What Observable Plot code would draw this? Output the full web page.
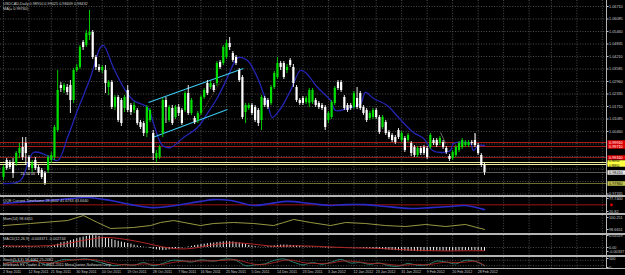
<!DOCTYPE html>
<html><head><meta charset="utf-8">
<script src="https://cdn.jsdelivr.net/npm/d3@7"></script>
<script src="https://cdn.jsdelivr.net/npm/@observablehq/plot@0.6"></script>
<style>
html,body{margin:0;padding:0;background:#000;}
#chart{position:relative;width:625px;height:275px;background:#000;overflow:hidden;font-family:"Liberation Sans",Arial,sans-serif;}
.panel{position:absolute;left:0;}
.panel svg{display:block;}
.sep{position:absolute;left:0;width:625px;background:#b4b4b4;}
.vax{position:absolute;left:606px;top:0;width:1px;height:268px;background:#b4b4b4;}
.lbl{position:absolute;left:3px;color:#cfcfcf;font-size:3.8px;line-height:4px;white-space:nowrap;}
</style></head><body><div id="chart"></div>
<script>
// ---------- data ----------
const openP = [0.9816,0.9901,0.9891,0.9886,0.9886,0.9936,0.9966,0.9986,0.9916,0.9861,
0.9901,0.9866,0.9851,0.9836,0.9851,0.9901,0.9916,1.0051,1.0276,1.0251,
1.0266,1.0276,1.0201,1.0351,1.0366,1.0491,1.0476,1.0526,1.0541,1.0416,
1.0366,1.0351,1.0351,1.0266,1.0291,1.0166,1.0216,1.0201,1.0161,1.0251,
1.0176,1.0151,1.0151,1.0091,1.0086,1.0036,1.0101,1.0036,0.9911,0.9916,
1.0036,1.0201,1.0101,1.0161,1.0116,1.0166,1.0151,1.0151,1.0236,1.0136,
1.0111,1.0101,1.0136,1.0216,1.0286,1.0266,1.0276,1.0286,1.0391,1.0386,
1.0416,1.0486,1.0436,1.0416,1.0351,1.0316,1.0141,1.0161,1.0176,1.0166,
1.0151,1.0101,1.0211,1.0201,1.0186,1.0266,1.0316,1.0386,1.0386,1.0351,
1.0401,1.0366,1.0266,1.0201,1.0211,1.0191,1.0186,1.0191,1.0201,1.0186,
1.0176,1.0166,1.0101,1.0116,1.0186,1.0291,1.0291,1.0216,1.0176,1.0176,
1.0166,1.0211,1.0236,1.0166,1.0151,1.0111,1.0116,1.0151,1.0116,1.0066,
1.0091,1.0041,1.0026,1.0016,1.0051,1.0001,1.0011,1.0001,0.9986,0.9966,
0.9926,0.9961,0.9966,0.9961,0.9966,1.0001,1.0001,0.9986,0.9991,0.9961,
0.9921,0.9911,0.9926,0.9951,0.9966,0.9976,0.9976,0.9991,1.0001,0.9976,
0.9926,0.9876];
const highP = [0.9876,0.9911,0.9901,0.9911,0.9946,0.9986,1.0016,1.0016,0.9926,0.9901,
0.9916,0.9876,0.9861,0.9846,0.9926,0.9941,1.0076,1.0351,1.0291,1.0286,
1.0281,1.0301,1.0361,1.0381,1.0476,1.0501,1.0551,1.0651,1.0551,1.0426,
1.0381,1.0376,1.0376,1.0301,1.0301,1.0226,1.0226,1.0211,1.0226,1.0276,
1.0186,1.0191,1.0161,1.0101,1.0096,1.0176,1.0161,1.0051,0.9951,0.9976,
1.0211,1.0216,1.0176,1.0176,1.0176,1.0181,1.0161,1.0246,1.0276,1.0211,
1.0121,1.0146,1.0226,1.0261,1.0301,1.0296,1.0286,1.0396,1.0401,1.0476,
1.0501,1.0516,1.0446,1.0426,1.0361,1.0326,1.0186,1.0186,1.0186,1.0176,
1.0161,1.0226,1.0221,1.0211,1.0276,1.0346,1.0416,1.0396,1.0396,1.0381,
1.0411,1.0381,1.0276,1.0211,1.0221,1.0221,1.0261,1.0261,1.0211,1.0196,
1.0186,1.0176,1.0146,1.0201,1.0271,1.0301,1.0301,1.0226,1.0186,1.0186,
1.0246,1.0266,1.0246,1.0176,1.0161,1.0146,1.0161,1.0161,1.0126,1.0126,
1.0101,1.0051,1.0036,1.0026,1.0061,1.0046,1.0021,1.0036,0.9996,0.9976,
0.9971,0.9971,0.9976,0.9971,1.0036,1.0011,1.0011,1.0021,1.0001,0.9971,
0.9931,0.9951,0.9976,0.9996,1.0011,1.0001,1.0001,1.0001,1.0036,0.9986,
0.9936,0.9886];
const lowP = [0.9801,0.9851,0.9856,0.9811,0.9871,0.9911,0.9901,0.9876,0.9851,0.9841,
0.9851,0.9826,0.9806,0.9776,0.9836,0.9886,0.9901,1.0041,1.0241,1.0236,
1.0226,1.0136,1.0186,1.0341,1.0356,1.0451,1.0466,1.0501,1.0406,1.0351,
1.0341,1.0336,1.0236,1.0226,1.0156,1.0151,1.0091,1.0071,1.0141,1.0141,
1.0126,1.0136,1.0076,1.0056,1.0021,1.0016,1.0091,0.9901,0.9891,0.9906,
1.0016,1.0086,1.0091,1.0076,1.0106,1.0121,1.0076,1.0141,1.0126,1.0126,
1.0081,1.0086,1.0126,1.0206,1.0226,1.0256,1.0241,1.0271,1.0356,1.0376,
1.0406,1.0451,1.0391,1.0376,1.0291,1.0106,1.0086,1.0151,1.0126,1.0091,
1.0071,1.0051,1.0166,1.0156,1.0176,1.0256,1.0306,1.0351,1.0306,1.0336,
1.0366,1.0266,1.0191,1.0176,1.0176,1.0181,1.0166,1.0181,1.0166,1.0156,
1.0151,1.0051,1.0086,1.0106,1.0176,1.0251,1.0241,1.0151,1.0141,1.0151,
1.0156,1.0156,1.0151,1.0126,1.0091,1.0101,1.0106,1.0106,1.0031,1.0056,
1.0026,1.0006,0.9991,0.9981,1.0006,0.9991,0.9941,0.9991,0.9921,0.9916,
0.9916,0.9926,0.9926,0.9906,0.9956,0.9976,0.9966,0.9976,0.9956,0.9931,
0.9896,0.9901,0.9916,0.9941,0.9956,0.9966,0.9966,0.9976,0.9966,0.9926,
0.9866,0.9826];
const closeP = [0.9866,0.9861,0.9866,0.9836,0.9936,0.9961,0.9916,0.9936,0.9866,0.9886,
0.9861,0.9836,0.9816,0.9786,0.9916,0.9926,1.0066,1.0251,1.0261,1.0276,
1.0241,1.0201,1.0351,1.0366,1.0466,1.0466,1.0536,1.0541,1.0416,1.0366,
1.0351,1.0366,1.0286,1.0291,1.0166,1.0216,1.0101,1.0086,1.0216,1.0151,
1.0141,1.0176,1.0086,1.0066,1.0036,1.0166,1.0151,0.9936,0.9936,0.9966,
1.0201,1.0166,1.0166,1.0086,1.0166,1.0136,1.0086,1.0236,1.0136,1.0201,
1.0091,1.0136,1.0216,1.0251,1.0236,1.0286,1.0251,1.0386,1.0366,1.0466,
1.0486,1.0466,1.0401,1.0386,1.0301,1.0116,1.0176,1.0176,1.0136,1.0101,
1.0086,1.0216,1.0176,1.0166,1.0266,1.0336,1.0386,1.0366,1.0316,1.0366,
1.0376,1.0286,1.0201,1.0186,1.0186,1.0211,1.0251,1.0251,1.0176,1.0166,
1.0161,1.0066,1.0136,1.0191,1.0261,1.0261,1.0251,1.0161,1.0151,1.0161,
1.0236,1.0166,1.0161,1.0136,1.0101,1.0136,1.0151,1.0116,1.0041,1.0116,
1.0036,1.0016,1.0001,0.9991,1.0016,1.0036,0.9951,1.0026,0.9936,0.9926,
0.9961,0.9936,0.9936,0.9916,1.0026,0.9986,0.9976,1.0011,0.9966,0.9941,
0.9906,0.9941,0.9966,0.9986,1.0001,0.9991,0.9991,0.9986,0.9976,0.9936,
0.9876,0.9841];

// moving average (blue), read at bar positions
const maBar = [0,5.3,9.4,13.8,17,20.1,23.2,27.3,30.4,31.4,34.5,37.7,40.8,45.2,47.1,49.9,52.4,56.5,60.9,64,67.2,70.3,72.8,73.8,76.6,79.7,81.6,83.2,84.4,87,90.1,93.2,94.8,98.6,102.7,104.2,108,112.1,113.6,116.2,120.5,124,128.7,131.9,134.7,137.8,140.3,141.3,146.6,147.5,149.1,151];
const maVal = [0.9786,0.9801,0.9941,0.9926,0.9901,1.0016,1.0151,1.0316,1.0466,1.0476,1.0366,1.0266,1.0201,1.0166,1.0086,0.9976,0.9966,1.0016,1.0066,1.0136,1.0216,1.0316,1.0401,1.0416,1.0401,1.0316,1.0236,1.0166,1.0116,1.0161,1.0251,1.0351,1.0341,1.0266,1.0201,1.0151,1.0161,1.0186,1.0241,1.0211,1.0176,1.0116,1.0041,1.0011,0.9951,0.9941,0.9951,0.9986,0.9986,0.9951,0.9976,0.9976];

// trend lines drawn on chart
const chanBar1 = [45.5,46.8], chanVal1 = [1.0191,1.0016], chanBar2 = [75.3,70.3], chanVal2 = [1.0361,1.0156];
const fibBar1 = [60.3], fibVal1 = [1.0091], fibBar2 = [68.75], fibVal2 = [1.0311];
const grayBar1 = [137.2,148.2], grayVal1 = [1.0041,1.0036], grayBar2 = [138.8,148.2], grayVal2 = [0.9986,0.9986];

// horizontal levels
const levelVal = [0.9991,0.9971,0.9916,0.9891,0.9881,0.9786];
const levelColor = ["#a31a1a","#a31a1a","#8c1a1a","#ecec9c","#ecec9c","#6c6c2c"];
const levelText = ["0.99910","0.99710","0.99160","0.98910","0.98810","0.97860"];
const levelBg = ["#e00000","#e00000","#e00000","#ffff40","#ffff40","#c8c850"];
const levelFg = ["#ffffff","#ffffff","#ffffff","#000000","#000000","#000000"];
const levelTextShift = [0,0,0,-1,1,0];

// price axis ticks (grid) and the tick labels left visible beside the coloured boxes
const priceTicks = [1.06710,1.06085,1.05460,1.04835,1.04210,1.03585,1.02960,1.02335,1.01710,1.01085,1.00460,0.99835,0.99210,0.98585,0.97960,0.97335];
const priceLabelTicks = [1.06710,1.06085,1.05460,1.04835,1.04210,1.03585,1.02960,1.02335,1.01710,1.01085,1.00460,0.97335];

// time axis
const dateLabels = ["2 Sep 2011","12 Sep 2011","21 Sep 2011","30 Sep 2011","10 Oct 2011","19 Oct 2011","28 Oct 2011","7 Nov 2011","16 Nov 2011","25 Nov 2011","5 Dec 2011","14 Dec 2011","23 Dec 2011","3 Jan 2012","12 Jan 2012","23 Jan 2012","31 Jan 2012","9 Feb 2012","20 Feb 2012","28 Feb 2012"];
const dateBars = [0,8,15,23,31,39,47,55,62,70,78,86,94,102,110,117,125,133,141,149];
const extraGridBars = [157,165,172,180,188];

// QQE
const qqeBar = [0,8.5,17.9,26.4,33.6,39.9,47.1,54,61.8,66,71.3,78.5,83.8,89.2,96.4,102.7,107.4,113.6,119.9,127.8,134,140.3,145,151];
const qqeVal = [56,65,73,82,69,51,38,47,65,73,69,47,56,65,56,47,51,51,43,34,38,43,47,29];
const qqeTicks = [77.74,20.82], qqeTickText = ["77.7400","20.82"];

// Momentum
const momBar = [0,8.5,20.1,25.1,29.5,33.6,40.8,46.2,49.3,53.4,61.8,66,72.2,78.5,84.8,88,91.1,96.4,102.7,107.4,113.6,119.9,126.2,132.5,138.8,145,151];
const momVal = [99.19,99.46,99.85,100.51,99.59,98.80,98.93,99.19,99.59,99.85,99.19,99.46,99.59,99.46,99.19,99.59,99.99,99.59,99.19,99.59,99.46,99.19,99.06,99.33,99.06,99.33,98.67];
const momTicks = [100.251,98.6651], momTickText = ["100.251","98.6651"];

// MACD (histogram per bar + signal)
const macdHist = [0.0012,0.0010,0.0009,0.0007,0.0007,0.0008,0.0009,0.0010,0.0009,0.0007,0.0005,0.0004,0.0002,
0.0003,0.0006,0.0008,
0.0016,0.0028,0.0040,0.0046,0.0051,
0.0058,0.0065,0.0075,0.0082,0.0088,
0.0094,0.0099,0.0101,0.0099,0.0095,
0.0088,0.0082,0.0075,0.0068,0.0060,
0.0053,0.0046,0.0040,0.0034,0.0028,
0.0020,0.0013,0.0007,0.0003,0.0001,
-0.0008,-0.0015,-0.0020,-0.0024,-0.0026,-0.0024,-0.0020,
-0.0015,-0.0012,-0.0008,-0.0004,0.0000,
0.0005,0.0010,0.0016,0.0020,0.0025,0.0028,0.0032,
0.0036,0.0038,0.0042,0.0045,0.0048,0.0050,0.0049,0.0047,
0.0043,0.0038,0.0032,0.0025,0.0018,0.0012,0.0007,0.0003,
0.0001,0.0003,0.0006,0.0010,0.0014,0.0018,0.0020,0.0021,
0.0020,0.0018,0.0015,0.0012,0.0010,0.0008,0.0006,0.0005,
0.0004,0.0002,0.0000,-0.0002,-0.0004,-0.0005,-0.0004,-0.0002,
0.0000,0.0001,0.0000,-0.0002,-0.0003,-0.0004,-0.0004,-0.0005,
-0.0006,-0.0008,-0.0010,-0.0012,-0.0014,-0.0016,-0.0018,-0.0020,
-0.0022,-0.0024,-0.0026,-0.0028,-0.0030,-0.0031,-0.0032,-0.0033,
-0.0034,-0.0035,-0.0036,-0.0036,-0.0035,-0.0033,-0.0031,-0.0030,
-0.0030,-0.0031,-0.0032,-0.0032,-0.0031,-0.0030,-0.0029,-0.0028,
-0.0027,-0.0026,-0.0026,-0.0027,-0.0028,-0.0031,-0.0034];
const sigBar = [0,10,18,25,32,38,45,50,55,60,66,72,78,85,92,100,108,118,128,138,145,151];
const sigVal = [0.0015,0.0012,0.0025,0.0060,0.0085,0.0070,0.0035,0.0005,-0.0012,-0.0005,0.0025,0.0040,0.0030,0.0010,0.0015,0.0008,-0.0002,-0.0008,-0.0022,-0.0029,-0.0028,-0.00274];
const macdTicks = [0.01019,0,-0.00337], macdTickText = ["0.01019","0.00","-0.00337"];

// Stochastic
const stBar = [0,4,7,10,13,16,19,22,26,29,32,35,38,41,44,47,50,53,56,59,62,66,70,73,76,79,82,85,88,91,94,97,100,103,106,109,112,115,118,121,124,127,130,133,136,139,142,145,148,151];
const stMain = [40,70,55,80,30,60,90,85,95,70,40,20,35,25,55,20,45,80,75,60,85,70,95,80,20,30,40,80,95,60,30,55,35,60,90,50,55,35,50,20,15,45,25,30,70,60,40,80,70,18];
const stSig = [45,55,65,65,55,50,70,85,90,85,65,40,30,30,40,35,35,55,70,70,72,75,82,85,60,35,35,55,80,80,55,45,45,50,70,70,60,45,45,35,25,30,35,30,45,60,55,60,70,25];
const stTicks = [100,0], stTickText = ["100","0"];

// misc annotation
const noteBar = [5.3], noteVal = [0.9836], noteText = ["21.54 05"];

// ---------- build ----------
const xDomain = [-0.942, 189.3];
const W = 625, MR = 19;
const FONT = "'Liberation Sans', Arial, sans-serif";
const gridStyle = {stroke: "#6e6e6e", strokeOpacity: 1, strokeDasharray: "1,1.6", strokeWidth: 0.7};
const gridBars = dateBars.concat(extraGridBars);

function mk(h, yDomain, marks) {
  return Plot.plot({
    width: W, height: h, marginLeft: 0, marginRight: MR, marginTop: 0, marginBottom: 0,
    x: {domain: xDomain, axis: null},
    y: {domain: yDomain, axis: null},
    color: {type: "identity"},
    style: {background: "transparent", color: "#c8c8c8", fontFamily: FONT, fontSize: "3.8px", overflow: "visible"},
    marks
  });
}
function rightAxis(ticks, fmt) {
  return Plot.axisY(ticks, {anchor: "right", tickSize: 1.5, tickPadding: 1, tickFormat: fmt, fontSize: 3.8, color: "#c8c8c8", label: null});
}

const candles = openP.map((o, i) => ({i, o, h: highP[i], l: lowP[i], c: closeP[i]}));
const candleColor = d => d.c >= d.o ? "#00e000" : "#ffffff";
const ma = maBar.map((b, k) => ({i: b, v: maVal[k]}));
const chan = chanBar1.map((b, k) => ({x1: b, y1: chanVal1[k], x2: chanBar2[k], y2: chanVal2[k]}));
const fib = fibBar1.map((b, k) => ({x1: b, y1: fibVal1[k], x2: fibBar2[k], y2: fibVal2[k]}));
const grays = grayBar1.map((b, k) => ({x1: b, y1: grayVal1[k], x2: grayBar2[k], y2: grayVal2[k]}));
const levels = levelVal.map((v, k) => ({v, c: levelColor[k], t: levelText[k], bg: levelBg[k], fg: levelFg[k], s: levelTextShift[k]}));
const last = candles[candles.length - 1];
const bid = [{v: last.c, t: last.c.toFixed(5)}];

const mainPlot = mk(195, [0.9726, 1.0701], [
  Plot.gridY(priceTicks, gridStyle),
  Plot.gridX(gridBars, gridStyle),
  Plot.ruleY(levels, {y: "v", stroke: "c", strokeWidth: 1}),
  Plot.ruleY(bid, {y: "v", stroke: "#707070", strokeWidth: 0.8}),
  Plot.line(ma, {x: "i", y: "v", stroke: "#2424b4", strokeWidth: 1.3, curve: "catmull-rom"}),
  Plot.link(chan, {x1: "x1", y1: "y1", x2: "x2", y2: "y2", stroke: "#3cc8f0", strokeWidth: 1.1}),
  Plot.link(fib, {x1: "x1", y1: "y1", x2: "x2", y2: "y2", stroke: "#a07c48", strokeWidth: 0.7, strokeDasharray: "1,1"}),
  Plot.link(grays, {x1: "x1", y1: "y1", x2: "x2", y2: "y2", stroke: "#9a9a9a", strokeWidth: 0.7}),
  Plot.ruleX(candles, {x: "i", y1: "l", y2: "h", stroke: candleColor, strokeWidth: 0.9}),
  Plot.ruleX(candles, {x: "i", y1: "o", y2: "c", stroke: candleColor, strokeWidth: 2.2}),
  Plot.text(noteBar.map((b, k) => ({b, v: noteVal[k], t: noteText[k]})), {x: "b", y: "v", text: "t", textAnchor: "start", fill: "#e0e0e0", fontSize: 3.8}),
  rightAxis(priceLabelTicks, d => d.toFixed(5)),
  Plot.ruleY(levels, {y: "v", stroke: "bg", strokeWidth: 4.5, dx: 607.5}),
  Plot.ruleY(bid, {y: "v", stroke: "#e8e8e8", strokeWidth: 4.5, dx: 607.5}),
  Plot.text(levels.filter(d => d.s === 0), {y: "v", text: "t", frameAnchor: "right", dx: 2.5, textAnchor: "start", fill: "fg", fontSize: 3.8}),
  Plot.text(levels.filter(d => d.s < 0), {y: "v", text: "t", frameAnchor: "right", dx: 2.5, dy: -1.2, textAnchor: "start", fill: "fg", fontSize: 2.9}),
  Plot.text(levels.filter(d => d.s > 0), {y: "v", text: "t", frameAnchor: "right", dx: 2.5, dy: 1.2, textAnchor: "start", fill: "fg", fontSize: 2.9}),
  Plot.text(bid, {y: "v", text: "t", frameAnchor: "right", dx: 2.5, textAnchor: "start", fill: "#000000", fontSize: 3.8})
]);

const qqe = qqeBar.map((b, k) => ({i: b, v: qqeVal[k]}));
const qqePlot = mk(16, [12.07, 82.12], [
  Plot.gridX(gridBars, gridStyle),
  Plot.ruleY([50], {stroke: "#a01414", strokeWidth: 1}),
  Plot.line(qqe, {x: "i", y: "v", stroke: "#2a2ac8", strokeWidth: 1.6, curve: "catmull-rom"}),
  rightAxis(qqeTicks, d => qqeTickText[qqeTicks.indexOf(d)]),
  Plot.dot([50], {y: d => d, frameAnchor: "right", dx: 5, symbol: "square", r: 1.4, fill: "#e00000"})
]);

const mom = momBar.map((b, k) => ({i: b, v: momVal[k]}));
const momPlot = mk(18, [98.139, 100.515], [
  Plot.gridX(gridBars, gridStyle),
  Plot.line(mom, {x: "i", y: "v", stroke: "#a8a848", strokeWidth: 0.9}),
  rightAxis(momTicks, d => momTickText[momTicks.indexOf(d)])
]);

const hist = macdHist.map((v, i) => ({i, v}));
const sig = sigBar.map((b, k) => ({i: b, v: sigVal[k]}));
const macdPlot = mk(20, [-0.0068, 0.01019], [
  Plot.gridX(gridBars, gridStyle),
  Plot.ruleY([0], gridStyle),
  Plot.ruleX(hist, {x: "i", y1: 0, y2: "v", stroke: "#f0f0f0", strokeWidth: 1}),
  Plot.line(sig, {x: "i", y: "v", stroke: "#c42828", strokeWidth: 0.9, curve: "catmull-rom"}),
  rightAxis(macdTicks, d => macdTickText[macdTicks.indexOf(d)])
]);

const stM = stBar.map((b, k) => ({i: b, v: stMain[k]}));
const stS = stBar.map((b, k) => ({i: b, v: stSig[k]}));
const stPlot = mk(11, [-11.1, 111.1], [
  Plot.gridX(gridBars, gridStyle),
  Plot.ruleY([80, 20], gridStyle),
  Plot.line(stM, {x: "i", y: "v", stroke: "#2f9a86", strokeWidth: 0.8, curve: "catmull-rom"}),
  Plot.line(stS, {x: "i", y: "v", stroke: "#c02626", strokeWidth: 0.8, curve: "catmull-rom"}),
  rightAxis(stTicks, d => stTickText[stTicks.indexOf(d)])
]);

const datePlot = mk(7, [0, 1], [
  Plot.text(dateBars.map((b, k) => ({i: b, t: dateLabels[k]})), {x: "i", text: "t", textAnchor: "start", dx: -0.5, fill: "#c8c8c8", fontSize: 3.6})
]);

// ---------- layout ----------
const chart = document.getElementById("chart");
function place(node, top) {
  const d = document.createElement("div");
  d.className = "panel"; d.style.top = top + "px";
  d.appendChild(node); chart.appendChild(d);
}
place(mainPlot, 0);
place(qqePlot, 197);
place(momPlot, 215);
place(macdPlot, 235);
place(stPlot, 257);
place(datePlot, 268);

[[195, 2], [213, 2], [233, 2], [255, 2], [268, 1]].forEach(([t, h]) => {
  const s = document.createElement("div"); s.className = "sep";
  s.style.top = t + "px"; s.style.height = h + "px"; chart.appendChild(s);
});
const v = document.createElement("div"); v.className = "vax"; chart.appendChild(v);

const headers = [
  [2, "USDCAD,Daily  0.98910 0.99025 0.98409 0.98432"],
  [6.5, "MA(= 0.99760)"],
  [198.5, "QQE Current Timeframe 28.4602 41.6763 43.6640"],
  [216.5, "Mom(14) 98.6651"],
  [236.5, "MACD(12,26,9) -0.003371 -0.002744"],
  [257.5, "Stoch(5,3,3) 18.4062 25.2082"],
  [262.5, "Interbank FX Trader 4, \u00a9 2001-2011 MetaQuotes Software Corp."]
];
headers.forEach(([t, s]) => {
  const d = document.createElement("div"); d.className = "lbl";
  d.style.top = t + "px"; d.textContent = s; chart.appendChild(d);
});
</script>
</body></html>
